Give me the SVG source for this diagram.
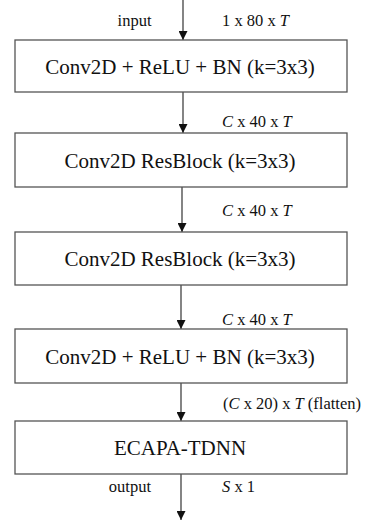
<svg xmlns="http://www.w3.org/2000/svg" width="369" height="522" viewBox="0 0 369 522">
<style>
.box{fill:#fff;stroke:#555;stroke-width:1.3}
.bt{font-family:"Liberation Serif","Times New Roman",serif;font-size:21px;fill:#111;text-anchor:middle}
.lb{font-family:"Liberation Serif","Times New Roman",serif;font-size:16.5px;fill:#111}
.ln{stroke:#333;stroke-width:1.2;fill:none;marker-end:url(#ah)}
</style>
<defs>
<marker id="ah" viewBox="0 0 10 10" refX="10" refY="5" markerWidth="9" markerHeight="9" markerUnits="userSpaceOnUse" orient="auto">
<path d="M0,0 L10,5 L0,10 z" fill="#111"/>
</marker>
</defs>
<rect width="369" height="522" fill="#fff"/>
<g id="connectors">
<line class="ln" x1="183" y1="0" x2="183" y2="40"/>
<line class="ln" x1="183" y1="92" x2="183" y2="133"/>
<line class="ln" x1="182" y1="187" x2="182" y2="232"/>
<line class="ln" x1="181" y1="285" x2="181" y2="329"/>
<line class="ln" x1="181" y1="383" x2="181" y2="421"/>
<line class="ln" x1="181" y1="474" x2="181" y2="520"/>
<text class="lb" x="151.5" y="26" text-anchor="end">input</text>
<text class="lb" x="222" y="26">1 x 80 x <tspan font-style="italic">T</tspan></text>
<text class="lb" x="222" y="127"><tspan font-style="italic">C</tspan> x 40 x <tspan font-style="italic">T</tspan></text>
<text class="lb" x="222" y="216"><tspan font-style="italic">C</tspan> x 40 x <tspan font-style="italic">T</tspan></text>
<text class="lb" x="222" y="325"><tspan font-style="italic">C</tspan> x 40 x <tspan font-style="italic">T</tspan></text>
<text class="lb" x="223" y="409">(<tspan font-style="italic">C</tspan> x 20) x <tspan font-style="italic">T</tspan> (flatten)</text>
<text class="lb" x="151" y="492" text-anchor="end">output</text>
<text class="lb" x="222" y="492"><tspan font-style="italic">S</tspan> x 1</text>
</g>
<g id="n1"><rect class="box" x="15" y="40" width="332" height="52"/><text class="bt" x="180" y="74">Conv2D + ReLU + BN (k=3x3)</text></g>
<g id="n2"><rect class="box" x="15" y="133" width="332" height="54"/><text class="bt" x="180" y="168">Conv2D ResBlock (k=3x3)</text></g>
<g id="n3"><rect class="box" x="15" y="232" width="332" height="53"/><text class="bt" x="180" y="266">Conv2D ResBlock (k=3x3)</text></g>
<g id="n4"><rect class="box" x="15" y="329" width="332" height="54"/><text class="bt" x="180" y="364">Conv2D + ReLU + BN (k=3x3)</text></g>
<g id="n5"><rect class="box" x="15" y="421" width="332" height="53"/><text class="bt" x="180" y="455">ECAPA-TDNN</text></g>
</svg>
